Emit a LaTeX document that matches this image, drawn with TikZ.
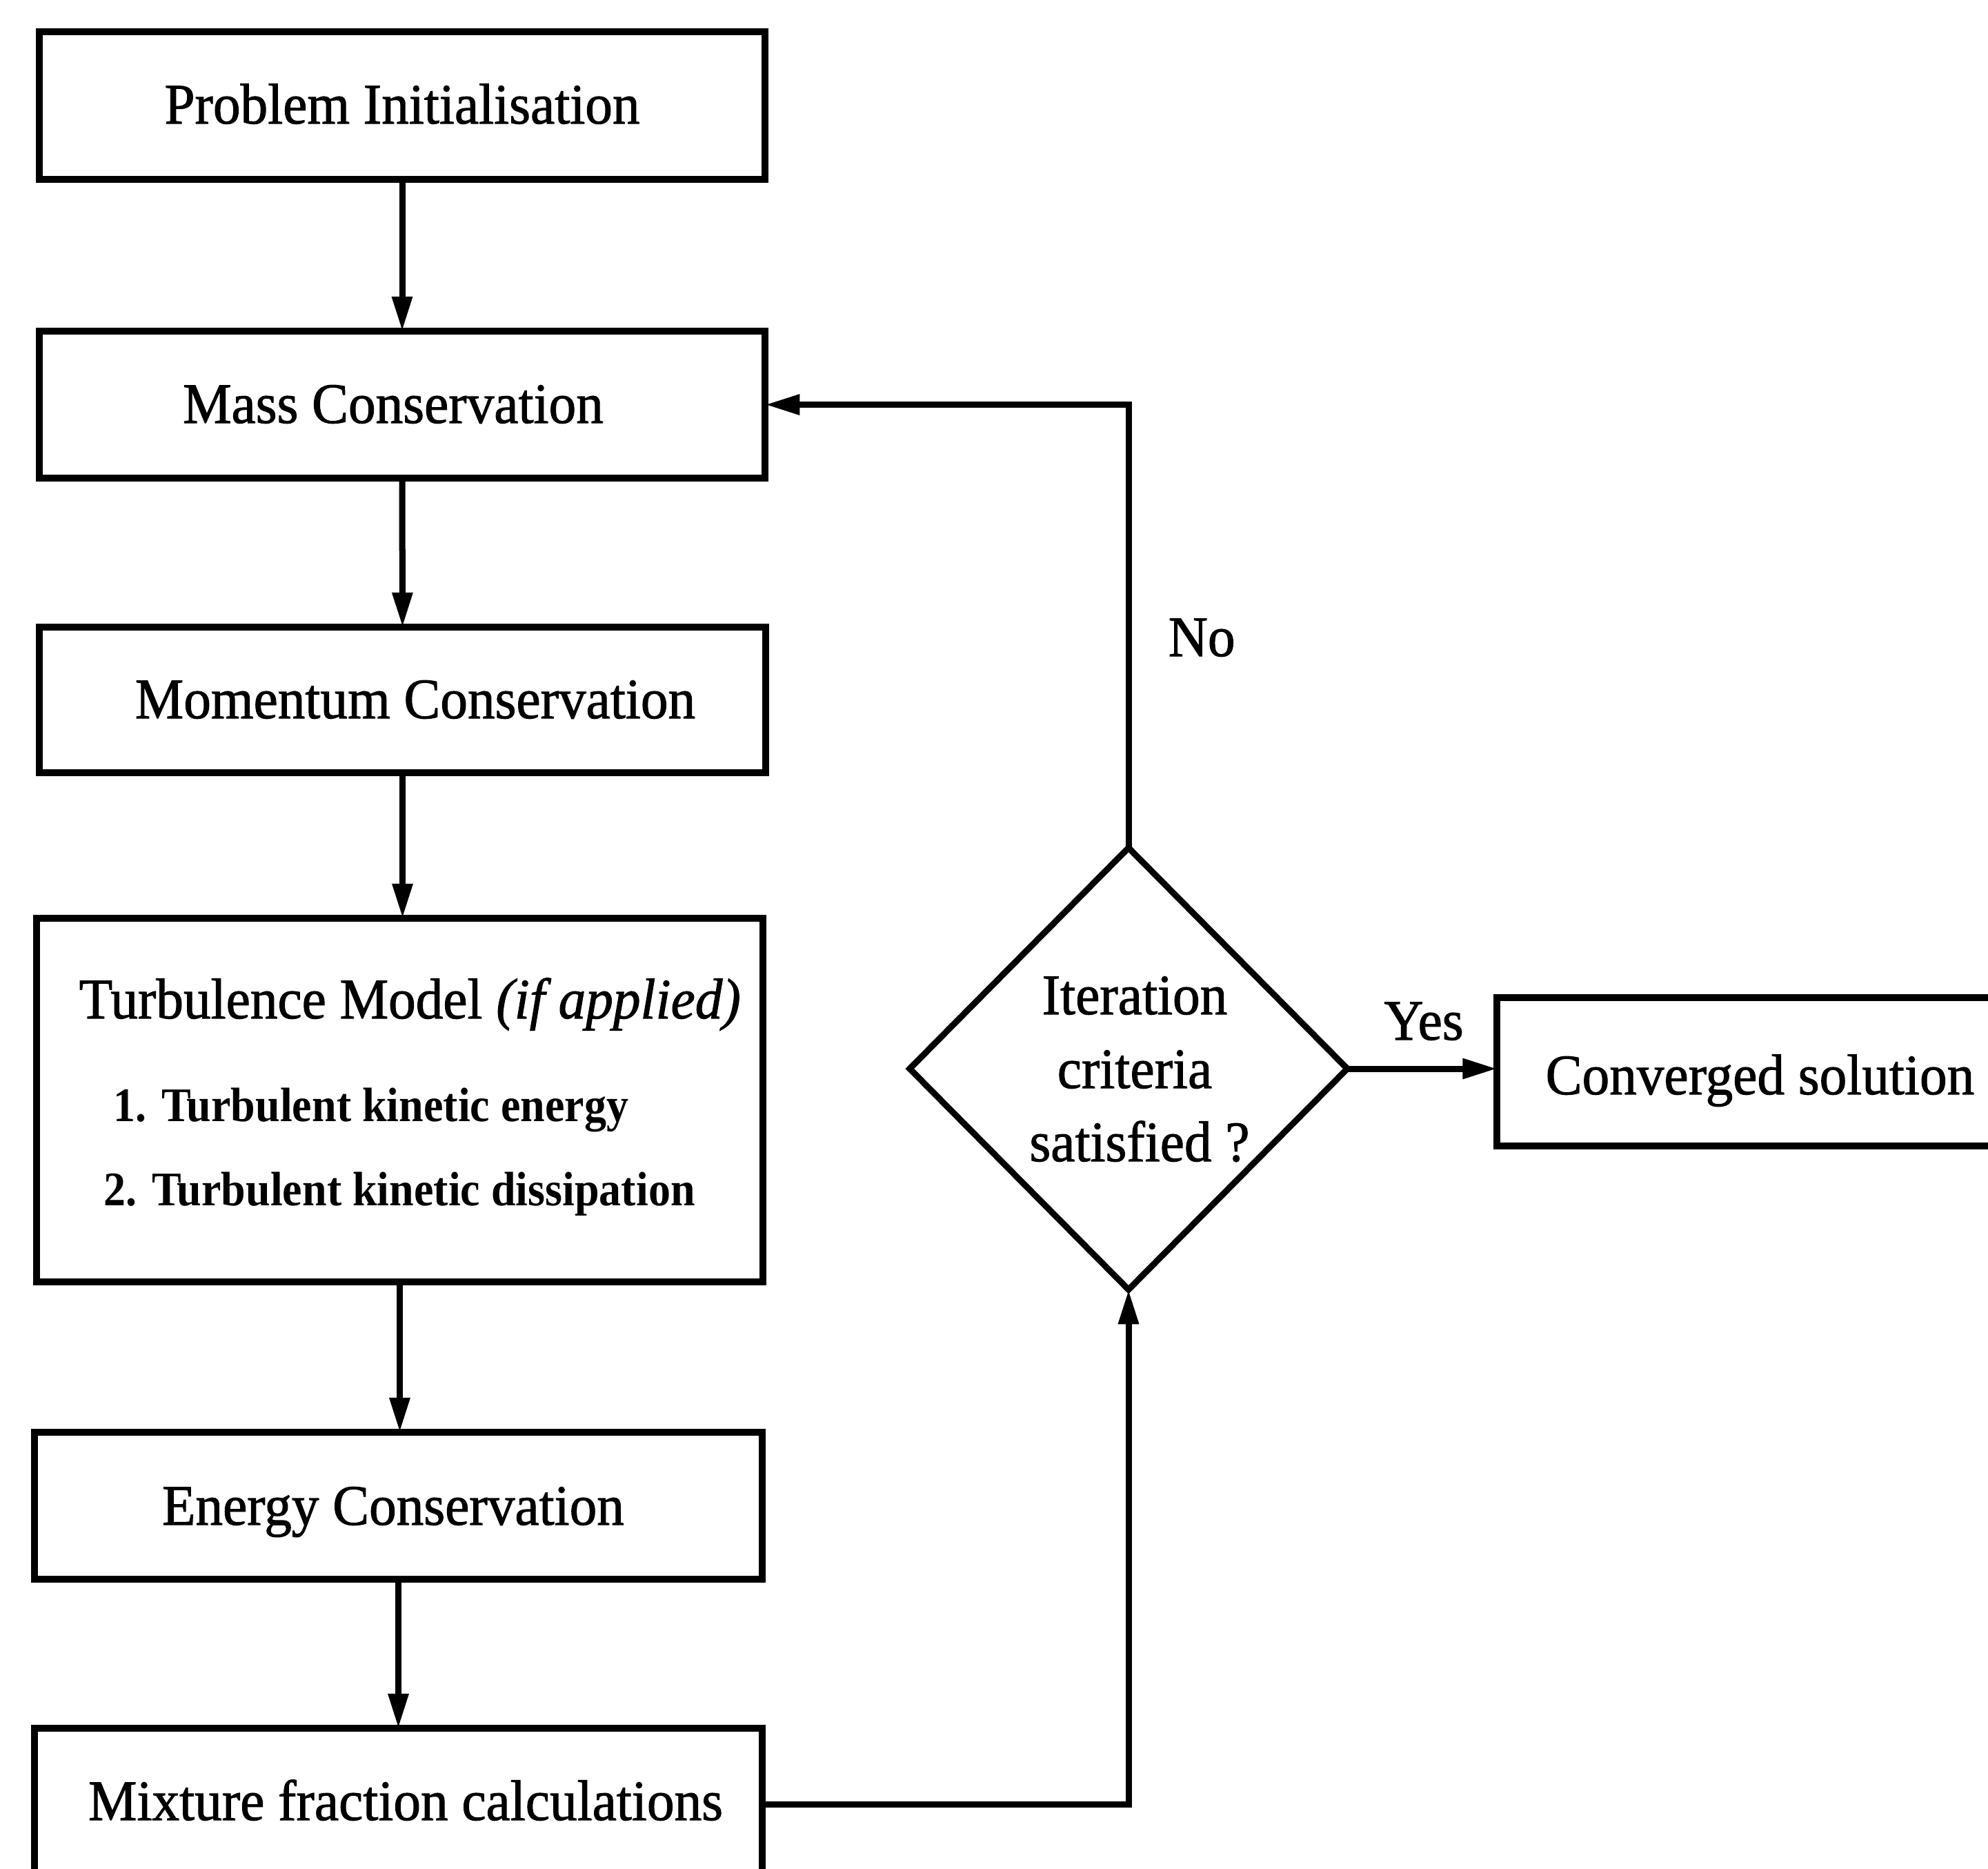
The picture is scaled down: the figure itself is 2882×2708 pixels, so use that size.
\documentclass[tikz,border=0pt]{standalone}
\usepackage{fontspec}
\setmainfont{Liberation Serif}[FakeStretch=0.955,FakeBold=1.2]
\newfontfamily\itemfamily{Liberation Serif}[FakeStretch=0.915]
\usetikzlibrary{arrows.meta,shapes.geometric,calc}

\newcommand\flowmain{\fontsize{23.6pt}{28pt}\selectfont}
\newcommand\flowitem{\itemfamily\bfseries\fontsize{19.9pt}{24pt}\selectfont}

\tikzset{
  box/.style={draw, line width=0.1cm, rectangle, inner sep=0pt, outer sep=0pt},
  decision/.style={draw, line width=0.09cm, diamond, inner sep=0pt, outer sep=0pt},
  txt/.style={inner sep=0pt, anchor=base, font=\flowmain},
  txtw/.style={inner sep=0pt, anchor=base west, font=\flowmain},
  itemtxt/.style={inner sep=0pt, anchor=base west, font=\flowitem},
  arr/.style={line width=0.09cm, -{Triangle[length=0.5cm,width=0.28cm]}}
}

\begin{document}
\begin{tikzpicture}[x=0.01cm,y=-0.01cm]
  \useasboundingbox (0,0) rectangle (2882,2708);
  \clip (0,0) rectangle (2882,2708);

  % process boxes of the left column
  \node[box, minimum width=10.52cm, minimum height=2.14cm] (b1) at (583,153) {};
  \node[box, minimum width=10.52cm, minimum height=2.13cm] (b2) at (583,586.5) {};
  \node[box, minimum width=10.53cm, minimum height=2.11cm] (b3) at (583.5,1014.5) {};
  \node[box, minimum width=10.53cm, minimum height=5.27cm] (b4) at (579.5,1594.5) {};
  \node[box, minimum width=10.55cm, minimum height=2.13cm] (b5) at (577.5,2182.5) {};
  \node[box, minimum width=10.55cm, minimum height=2.20cm] (b6) at (577.5,2615) {};

  % decision and result
  \node[decision, minimum width=6.34cm, minimum height=6.40cm] (dia) at (1636,1549) {};
  \node[box, minimum width=7.79cm, minimum height=2.15cm] (conv) at (2560,1553.5) {};

  % box texts
  \node[txt] (t1) at (583,179) {Problem Initialisation};
  \node[txt] (t2) at (570,613) {Mass Conservation};
  \node[txt] (t3) at (602,1041) {Momentum Conservation};
  \node[txtw] (t4) at (114,1476) {Turbulence Model \textit{(if applied)}};
  \node[itemtxt] (t5) at (164,1625) {1. Turbulent kinetic energy};
  \node[itemtxt] (t6) at (150,1747) {2. Turbulent kinetic dissipation};
  \node[txt] (t7) at (570,2210) {Energy Conservation};
  \node[txt] (t8) at (588,2638) {Mixture fraction calculations};

  \node[txt] (d1) at (1645,1470) {Iteration};
  \node[txt] (d2) at (1645,1577) {criteria};
  \node[txt] (d3) at (1652,1683) {satisfied ?};

  \node[txtw] (t9) at (2240,1586) {Converged solution};

  % branch labels
  \node[txt] (yes) at (2064,1507) {Yes};
  \node[txtw] (no) at (1693,951) {No};

  % connectors
  \draw[arr] (b1.south) -- (b2.north);
  \draw[arr] (b2.south) -- (b3.north);
  \draw[arr] (b3.south) -- (b3.south |- b4.north);
  \draw[arr] (b4.south) -- (b4.south |- b5.north);
  \draw[arr] (b5.south) -- (b6.north);
  \draw[arr] (b6.east) -| (dia.south);
  \draw[arr] (dia.north) |- (b2.east);
  \draw[arr] (dia.east) -- (dia.east -| conv.west);
\end{tikzpicture}
\end{document}
